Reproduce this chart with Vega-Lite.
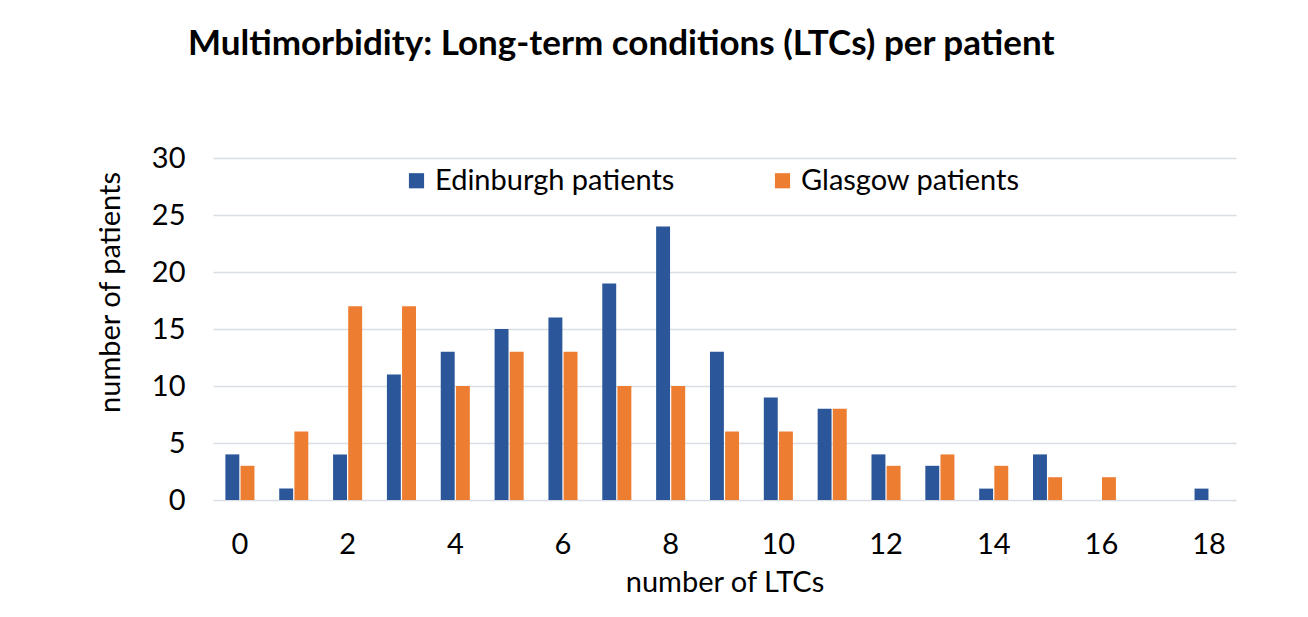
{
  "$schema": "https://vega.github.io/schema/vega-lite/v6.json",
  "width": 1023,
  "height": 342,
  "autosize": {"type": "none"},
  "padding": {"left": 213, "top": 158, "right": 72, "bottom": 117},
  "background": "white",
  "title": {
    "text": "Multimorbidity: Long-term conditions (LTCs) per patient",
    "anchor": "start",
    "frame": "group",
    "dx": -25,
    "offset": 82,
    "font": "Lato",
    "fontSize": 35,
    "fontWeight": "bold",
    "color": "#000000"
  },
  "data": {
    "values": [
      {"ltc": 0, "city": "Edinburgh patients", "n": 4},
      {"ltc": 0, "city": "Glasgow patients", "n": 3},
      {"ltc": 1, "city": "Edinburgh patients", "n": 1},
      {"ltc": 1, "city": "Glasgow patients", "n": 6},
      {"ltc": 2, "city": "Edinburgh patients", "n": 4},
      {"ltc": 2, "city": "Glasgow patients", "n": 17},
      {"ltc": 3, "city": "Edinburgh patients", "n": 11},
      {"ltc": 3, "city": "Glasgow patients", "n": 17},
      {"ltc": 4, "city": "Edinburgh patients", "n": 13},
      {"ltc": 4, "city": "Glasgow patients", "n": 10},
      {"ltc": 5, "city": "Edinburgh patients", "n": 15},
      {"ltc": 5, "city": "Glasgow patients", "n": 13},
      {"ltc": 6, "city": "Edinburgh patients", "n": 16},
      {"ltc": 6, "city": "Glasgow patients", "n": 13},
      {"ltc": 7, "city": "Edinburgh patients", "n": 19},
      {"ltc": 7, "city": "Glasgow patients", "n": 10},
      {"ltc": 8, "city": "Edinburgh patients", "n": 24},
      {"ltc": 8, "city": "Glasgow patients", "n": 10},
      {"ltc": 9, "city": "Edinburgh patients", "n": 13},
      {"ltc": 9, "city": "Glasgow patients", "n": 6},
      {"ltc": 10, "city": "Edinburgh patients", "n": 9},
      {"ltc": 10, "city": "Glasgow patients", "n": 6},
      {"ltc": 11, "city": "Edinburgh patients", "n": 8},
      {"ltc": 11, "city": "Glasgow patients", "n": 8},
      {"ltc": 12, "city": "Edinburgh patients", "n": 4},
      {"ltc": 12, "city": "Glasgow patients", "n": 3},
      {"ltc": 13, "city": "Edinburgh patients", "n": 3},
      {"ltc": 13, "city": "Glasgow patients", "n": 4},
      {"ltc": 14, "city": "Edinburgh patients", "n": 1},
      {"ltc": 14, "city": "Glasgow patients", "n": 3},
      {"ltc": 15, "city": "Edinburgh patients", "n": 4},
      {"ltc": 15, "city": "Glasgow patients", "n": 2},
      {"ltc": 16, "city": "Edinburgh patients", "n": 0},
      {"ltc": 16, "city": "Glasgow patients", "n": 2},
      {"ltc": 17, "city": "Edinburgh patients", "n": 0},
      {"ltc": 17, "city": "Glasgow patients", "n": 0},
      {"ltc": 18, "city": "Edinburgh patients", "n": 1},
      {"ltc": 18, "city": "Glasgow patients", "n": 0}
    ]
  },
  "mark": {"type": "bar"},
  "encoding": {
    "x": {
      "field": "ltc",
      "type": "ordinal",
      "scale": {"paddingInner": 0.46, "paddingOuter": 0.23},
      "axis": {
        "values": [0, 2, 4, 6, 8, 10, 12, 14, 16, 18],
        "labelAngle": 0,
        "ticks": false,
        "domain": false,
        "labelFont": "Lato",
        "labelFontSize": 29,
        "labelColor": "#000000",
        "labelPadding": 30,
        "title": "number of LTCs",
        "titleFont": "Lato",
        "titleFontSize": 29,
        "titleFontWeight": "normal",
        "titleColor": "#000000",
        "titlePadding": 9
      }
    },
    "xOffset": {
      "field": "city",
      "type": "nominal",
      "scale": {"paddingInner": 0.08}
    },
    "y": {
      "field": "n",
      "type": "quantitative",
      "scale": {"domain": [0, 30], "nice": false},
      "axis": {
        "values": [0, 5, 10, 15, 20, 25, 30],
        "ticks": false,
        "domain": false,
        "grid": true,
        "gridColor": "#D9DEE4",
        "gridWidth": 1.5,
        "labelFont": "Lato",
        "labelFontSize": 29,
        "labelColor": "#000000",
        "labelPadding": 28,
        "title": "number of patients",
        "titleFont": "Lato",
        "titleFontSize": 29,
        "titleFontWeight": "normal",
        "titleColor": "#000000",
        "titleX": -88,
        "titleY": 134
      }
    },
    "color": {
      "field": "city",
      "type": "nominal",
      "scale": {
        "domain": ["Edinburgh patients", "Glasgow patients"],
        "range": ["#2B579A", "#ED7D31"]
      },
      "legend": {
        "title": null,
        "orient": "none",
        "legendX": 189,
        "legendY": 8,
        "direction": "horizontal",
        "columns": 2,
        "columnPadding": 93,
        "symbolType": "square",
        "symbolSize": 230,
        "symbolStrokeWidth": 0,
        "labelFont": "Lato",
        "labelFontSize": 29,
        "labelColor": "#000000",
        "labelLimit": 400
      }
    }
  },
  "config": {
    "view": {"stroke": null}
  }
}
